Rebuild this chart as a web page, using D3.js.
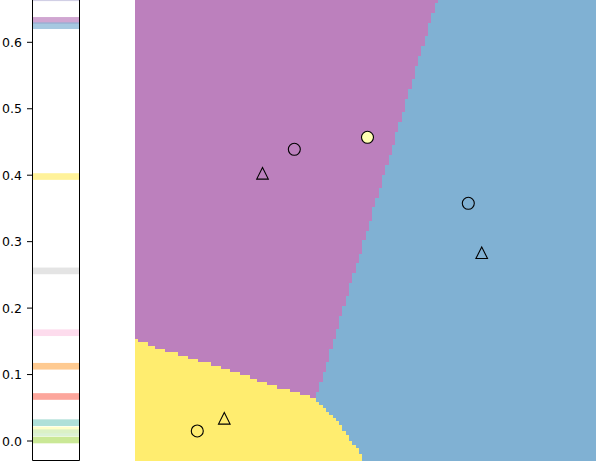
<!DOCTYPE html>
<html><head><meta charset="utf-8">
<script src="https://cdn.jsdelivr.net/npm/d3@7"></script>
<style>html,body{margin:0;padding:0;background:#fff;overflow:hidden;} svg{display:block;}</style>
</head><body>
<script>
// ---- colorbar stripes (value, colour) ----
const stripeValues = [0.667, 0.633, 0.625, 0.398, 0.256, 0.163, 0.1125, 0.067, 0.0276, 0.0166, 0.0125, 0.0015];
const stripeColors = ["#bebada","#bc80bd","#80b1d3","#ffed6f","#d9d9d9","#fccde5","#fdb462","#fb8072","#8dd3c7","#ffffb3","#ccebc5","#b3de69"];
const stripeHalfWidth = 0.005;
const colorbarTicks = [0, 0.1, 0.2, 0.3, 0.4, 0.5, 0.6];
const colorbarTickLabels = ["0.0", "0.1", "0.2", "0.3", "0.4", "0.5", "0.6"];
const colorbarMin = -0.0301;

// ---- decision regions: boundaries in data coords (0..1 square) ----
const purpleBlueBoundary = [[0.655, 1.0], [0.3926, 0.1345]];
const purpleYellowBoundary = [[0, 0.2646], [0.0607, 0.2408], [0.1345, 0.2191], [0.2061, 0.1974], [0.2777, 0.1714], [0.3514, 0.1475], [0.3926, 0.1345]];
const yellowBlueBoundary = [[0.3926, 0.1345], [0.4382, 0.0889], [0.4881, 0.0174], [0.4967, 0]];
const regionNames = ["purple", "blue", "yellow"];
const regionColors = ["#bc80bd", "#80b1d3", "#ffed6f"];
const gridSize = 140;

// ---- points ----
const pointX = [0.3456, 0.5043, 0.2766, 0.7230, 0.7521, 0.1351, 0.1937];
const pointY = [0.6761, 0.7022, 0.6241, 0.5590, 0.4518, 0.0651, 0.0926];
const pointShape = ["circle", "circle", "triangle", "circle", "triangle", "circle", "triangle"];
const pointFill = ["none", "#ffffb3", "none", "none", "none", "none", "none"];

const W = 596, H = 466;
const svg = d3.select("body").append("svg").attr("width", W).attr("height", H);

// ===== Decision surface =====
const x = d3.scaleLinear().domain([0, 1]).range([135, 596]);
const y = d3.scaleLinear().domain([0, 1]).range([461, 0]);
const junction = purpleBlueBoundary[1];
const yellowPoly = [[0, 0], ...purpleYellowBoundary, ...yellowBlueBoundary.slice(1)];
const purplePoly = [[0, 1], purpleBlueBoundary[0], junction, ...purpleYellowBoundary.slice(0, -1).reverse()];
function classify(u, v) {
  if (d3.polygonContains(yellowPoly, [u, v])) return 2;
  if (d3.polygonContains(purplePoly, [u, v])) return 0;
  return 1;
}
const step = 1 / gridSize;
const runs = [];
for (let r = 0; r < gridSize; r++) {
  const v0 = 1 - (r + 1) * step, v1 = 1 - r * step;
  let start = 0, cur = classify(step / 2, (v0 + v1) / 2);
  for (let c = 1; c <= gridSize; c++) {
    const k = c < gridSize ? classify((c + 0.5) * step, (v0 + v1) / 2) : -1;
    if (k !== cur) {
      runs.push({u0: start * step, u1: c * step, v0, v1, k: cur});
      start = c; cur = k;
    }
  }
}
svg.append("g").attr("shape-rendering", "crispEdges").selectAll("rect").data(runs).enter().append("rect")
  .attr("x", d => Math.round(x(d.u0)))
  .attr("width", d => Math.round(x(d.u1)) - Math.round(x(d.u0)))
  .attr("y", d => Math.round(y(d.v1)))
  .attr("height", d => Math.round(y(d.v0)) - Math.round(y(d.v1)))
  .attr("fill", d => regionColors[d.k]);

// ===== Colorbar =====
const cbLeft = 32, cbRight = 80;
const cbY = d3.scaleLinear().domain([0, 0.6]).range([441, 42.3]);
const cb = svg.append("g");
cb.selectAll("rect.stripe").data(stripeValues).enter().append("rect")
  .attr("x", cbLeft).attr("width", cbRight - cbLeft)
  .attr("y", d => cbY(d + stripeHalfWidth))
  .attr("height", d => cbY(d - stripeHalfWidth) - cbY(d + stripeHalfWidth))
  .attr("fill", (d, i) => stripeColors[i])
  .attr("fill-opacity", 0.7);
const cbBottom = cbY(colorbarMin);
cb.append("path")
  .attr("d", `M${cbLeft + 0.5},-5V${cbBottom - 0.5}H${cbRight - 0.5}V-5`)
  .attr("fill", "none").attr("stroke", "#000").attr("stroke-width", 1);
const tk = cb.selectAll("g.tick").data(colorbarTicks).enter().append("g")
  .attr("transform", d => `translate(0,${cbY(d)})`);
tk.append("line").attr("x1", cbLeft - 5).attr("x2", cbLeft).attr("stroke", "#000").attr("stroke-width", 1);
tk.append("text").attr("x", cbLeft - 10).attr("text-anchor", "end")
  .attr("dominant-baseline", "central")
  .attr("font-family", "DejaVu Sans").attr("font-size", 12.5).attr("fill", "#000")
  .text((d, i) => colorbarTickLabels[i]);

// ===== Points =====
const pts = pointX.map((px, i) => ({u: px, v: pointY[i], shape: pointShape[i], fill: pointFill[i]}));
const g = svg.append("g");
g.selectAll("circle").data(pts.filter(p => p.shape === "circle")).enter().append("circle")
  .attr("cx", d => x(d.u)).attr("cy", d => y(d.v)).attr("r", 6)
  .attr("fill", d => d.fill).attr("stroke", "#000").attr("stroke-width", 1.1);
const s = 5.8;
g.selectAll("path.tri").data(pts.filter(p => p.shape === "triangle")).enter().append("path")
  .attr("d", d => { const cx = x(d.u), cy = y(d.v); return `M${cx},${cy - s}L${cx - s},${cy + s}L${cx + s},${cy + s}Z`; })
  .attr("fill", d => d.fill).attr("stroke", "#000").attr("stroke-width", 1.1).attr("stroke-linejoin", "miter");
</script>
</body></html>
